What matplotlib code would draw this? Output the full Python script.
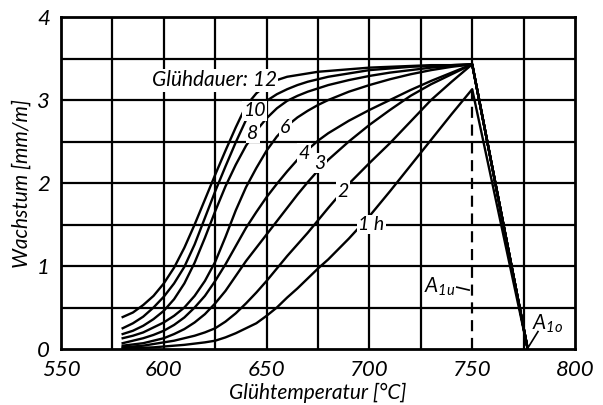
import matplotlib
matplotlib.use("Agg")
import matplotlib.pyplot as plt
import numpy as np

# ---- data ----
T = [580, 585, 590, 595, 600, 605, 610, 615, 620, 625, 630, 635, 640, 645, 650,
     655, 660, 665, 670, 675, 680, 690, 700, 710, 720, 730, 740, 750]

h12 = [0.385, 0.44, 0.53, 0.64, 0.79, 0.98, 1.22, 1.50, 1.80, 2.10, 2.39, 2.67, 2.93, 3.08, 3.18,
       3.24, 3.28, 3.30, 3.32, 3.34, 3.35, 3.37, 3.39, 3.40, 3.41, 3.42, 3.42, 3.43]
h10 = [0.25, 0.31, 0.39, 0.50, 0.63, 0.79, 0.99, 1.26, 1.58, 1.90, 2.20, 2.49, 2.76, 2.90, 2.99,
       3.07, 3.13, 3.18, 3.22, 3.25, 3.28, 3.32, 3.36, 3.38, 3.40, 3.41, 3.42, 3.43]
h8 = [0.18, 0.22, 0.28, 0.36, 0.46, 0.60, 0.79, 1.04, 1.34, 1.66, 1.96, 2.22, 2.45, 2.63, 2.78,
      2.90, 2.99, 3.05, 3.10, 3.14, 3.18, 3.24, 3.29, 3.33, 3.36, 3.39, 3.41, 3.43]
h6 = [0.13, 0.16, 0.20, 0.26, 0.32, 0.40, 0.50, 0.64, 0.82, 1.05, 1.35, 1.67, 1.95, 2.18, 2.39,
      2.56, 2.69, 2.79, 2.87, 2.94, 3.00, 3.10, 3.18, 3.25, 3.31, 3.36, 3.40, 3.43]
h4 = [0.07, 0.10, 0.13, 0.17, 0.22, 0.29, 0.38, 0.50, 0.64, 0.82, 1.02, 1.24, 1.46, 1.65, 1.83,
      1.99, 2.14, 2.28, 2.40, 2.51, 2.60, 2.75, 2.88, 3.00, 3.12, 3.23, 3.33, 3.43]
h3 = [0.04, 0.055, 0.07, 0.10, 0.13, 0.18, 0.24, 0.32, 0.42, 0.55, 0.70, 0.88, 1.06, 1.22, 1.38,
      1.54, 1.70, 1.86, 2.01, 2.15, 2.28, 2.50, 2.70, 2.88, 3.05, 3.19, 3.31, 3.43]
h2 = [0.02, 0.03, 0.04, 0.06, 0.08, 0.10, 0.13, 0.16, 0.20, 0.25, 0.33, 0.43, 0.55, 0.68, 0.82,
      0.97, 1.12, 1.26, 1.40, 1.55, 1.70, 1.99, 2.24, 2.48, 2.74, 3.00, 3.22, 3.43]
h1 = [0.01, 0.012, 0.015, 0.02, 0.03, 0.04, 0.05, 0.065, 0.08, 0.10, 0.14, 0.19, 0.25, 0.31, 0.40,
      0.50, 0.62, 0.73, 0.85, 0.97, 1.08, 1.33, 1.60, 1.90, 2.21, 2.52, 2.83, 3.13]

series = [h12, h10, h8, h6, h4, h3, h2, h1]
T_A1u = 750
T_A1o = 777

x_ticks = [550, 600, 650, 700, 750, 800]
y_ticks = [0, 1, 2, 3, 4]

curve_labels = ["10", "8", "6", "4", "3", "2", "1 h"]
label_pos = [(644, 2.87), (643.4, 2.60), (659, 2.67), (668, 2.36), (676, 2.24), (687, 1.90), (701, 1.50)]

FONT = ["Lato", "DejaVu Sans"]
plt.rcParams["font.family"] = FONT
plt.rcParams["mathtext.fontset"] = "custom"
plt.rcParams["mathtext.it"] = "Lato:italic"
plt.rcParams["mathtext.rm"] = "Lato:italic"

fig = plt.figure(figsize=(6.03, 4.05), dpi=100)
ax = fig.add_axes([61/603, 1-349/405, (575-61)/603, (349-17)/405])
ax.set_xlim(550, 800)
ax.set_ylim(0, 4)

# grid
for xv in np.arange(575, 800, 25):
    if xv == 750:
        continue
    ax.axvline(xv, color="black", lw=1.6, zorder=1)
for yv in np.arange(0.5, 4, 0.5):
    ax.axhline(yv, color="black", lw=1.6, zorder=1)
# 750 line: solid above curves, dashed below
ax.plot([750, 750], [3.43, 4], color="black", lw=1.6, zorder=1)
ax.plot([750, 750], [0, 3.13], color="black", lw=1.6, ls=(0, (5, 3)), zorder=1)

for s in series:
    xs = T + [T_A1o]
    ys = s + [0.0]
    ax.plot(xs, ys, color="black", lw=1.7, zorder=2, solid_joinstyle="round")

bbox = dict(facecolor="white", edgecolor="none", pad=1.0)
ax.text(655, 3.24, "Glühdauer: 12", ha="right", va="center", fontsize=15,
        style="italic", bbox=bbox, zorder=3)
for lab, (lx, ly) in zip(curve_labels, label_pos):
    ax.text(lx, ly, lab, ha="center", va="center", fontsize=14, style="italic",
            bbox=bbox, zorder=3)

ax.text(742, 0.75, r"$A_{1u}$", ha="right", va="center", fontsize=15, zorder=3)
ax.plot([742.5, 748.5], [0.745, 0.71], color="black", lw=1.2, zorder=3)
ax.text(779, 0.30, r"$A_{1o}$", ha="left", va="center", fontsize=15, zorder=3)
ax.plot([782, 777.5], [0.21, 0.03], color="black", lw=1.2, zorder=3)

ax.set_xticks(x_ticks)
ax.set_yticks(y_ticks)
ax.set_xticklabels([str(v) for v in x_ticks], fontsize=16, style="italic")
ax.set_yticklabels([str(v) for v in y_ticks], fontsize=16, style="italic")
ax.tick_params(length=0, pad=8)
for sp in ax.spines.values():
    sp.set_linewidth(2)
    sp.set_zorder(4)

ax.set_xlabel("Glühtemperatur [°C]", fontsize=15, style="italic", labelpad=2)
ax.set_ylabel("Wachstum [mm/m]", fontsize=15, style="italic", labelpad=4)

fig.savefig("out.png", dpi=100)
